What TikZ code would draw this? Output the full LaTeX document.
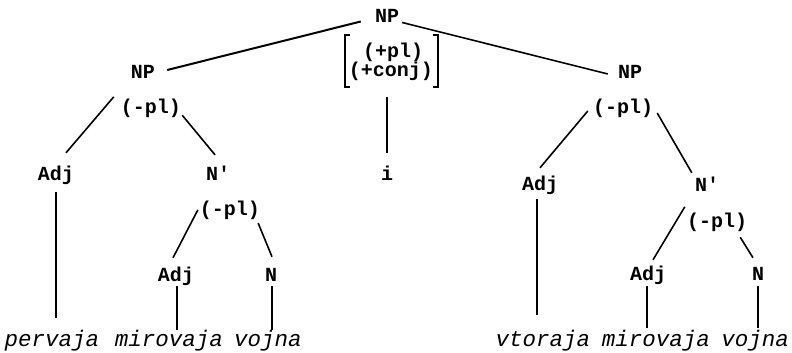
\documentclass[tikz,border=0pt]{standalone}
\usepackage{fontspec}
\setmonofont{Liberation Mono}
\begin{document}
\begin{tikzpicture}[x=1pt,y=-1pt,
  lab/.style={font=\ttfamily\bfseries\fontsize{20}{24}\selectfont, inner sep=0pt, anchor=base, text height=13pt, text depth=3pt},
  word/.style={font=\ttfamily\itshape\fontsize{22.5}{26}\selectfont, inner sep=0pt, anchor=base, text height=10pt, text depth=4pt},
  br/.style={line width=1.5pt},
  ln/.style={line width=1.6pt},
  tln/.style={line width=2pt}]
\useasboundingbox (0,0) rectangle (792,353);
% labels
\node[lab] (top) at (387,23) {NP};
\node[lab] (lnp) at (143,78) {NP};
\node[lab] (rnp) at (630,78) {NP};
\node[lab] (fpl) at (393,57) {(+pl)};
\node[lab] (fconj) at (391,77) {(+conj)};
\node[inner sep=0pt, minimum width=93pt, minimum height=52pt] (feat) at (391.5,61) {};
\node[lab] (conj) at (387,180) {i};
% left conjunct
\node[lab] (lpl) at (151,113) {(-pl)};
\node[lab] (ladj) at (56,180) {Adj};
\node[lab] (lnb) at (218,180) {N'};
\node[lab] (llpl) at (230,215) {(-pl)};
\node[lab] (lladj) at (176,281) {Adj};
\node[lab] (lln) at (271,281) {N};
% right conjunct
\node[lab] (rpl) at (623,113) {(-pl)};
\node[lab] (radj) at (540,190) {Adj};
\node[lab] (rnb) at (707,191) {N'};
\node[lab] (lrpl) at (717,227) {(-pl)};
\node[lab] (lradj) at (648,280) {Adj};
\node[lab] (lrn) at (758,280) {N};
% words
\node[word] (w1) at (52,346) {pervaja};
\node[word] (w2) at (169,346) {mirovaja};
\node[word] (w3) at (268,346) {vojna};
\node[word] (w4) at (543,346) {vtoraja};
\node[word] (w5) at (656,346) {mirovaja};
\node[word] (w6) at (755,346) {vojna};
% bracket
\draw[br] ([shift={(5,0)}]feat.north west) -- (feat.north west) -- (feat.south west) -- ([shift={(5,0)}]feat.south west);
\draw[br] ([shift={(-5,0)}]feat.north east) -- (feat.north east) -- (feat.south east) -- ([shift={(-5,0)}]feat.south east);
% top branches
\draw[tln] ([shift={(-14,3.5)}]top.west) -- ([shift={(12,-3)}]lnp.east);
\draw[ln] ([shift={(3,4.5)}]top.east) -- ([shift={(-10,1)}]rnp.west);
\draw[ln] ([shift={(0,10)}]conj.north |- feat.south) -- ([shift={(0,-14)}]conj.north);
% left conjunct branches
\draw[ln] ([shift={(-7,-3)}]lpl.north west) -- ([shift={(10,-14)}]ladj.north);
\draw[ln] ([shift={(1,-1)}]lpl.south east) -- ([shift={(-3,-12)}]lnb.north);
\draw[ln] ([shift={(0,9)}]ladj.south) -- ([shift={(0,-18)}]ladj.south |- w1.north);
\draw[ln] ([shift={(-2,0)}]llpl.west) -- ([shift={(-3,-10)}]lladj.north);
\draw[ln] ([shift={(-2,5)}]llpl.south east) -- ([shift={(1,-11)}]lln.north);
\draw[ln] ([shift={(1,2)}]lladj.south) -- ([shift={(1,-6)}]lladj.south |- w2.north);
\draw[ln] ([shift={(1,2)}]lln.south) -- ([shift={(1,-6)}]lln.south |- w3.north);
% right conjunct branches
\draw[ln] ([shift={(-5,3)}]rpl.west) -- ([shift={(0,-9)}]radj.north);
\draw[ln] ([shift={(4,5)}]rpl.east) -- ([shift={(-3,-5)}]rnb.north west);
\draw[ln] ([shift={(-3,6)}]radj.south) -- ([shift={(-3,-21)}]radj.south |- w4.north);
\draw[ln] ([shift={(-2,-7)}]lrpl.north west) -- ([shift={(5,-7)}]lradj.north);
\draw[ln] ([shift={(-7,7)}]lrpl.south east) -- ([shift={(-5,-9)}]lrn.north);
\draw[ln] ([shift={(-1,3)}]lradj.south) -- ([shift={(-1,-8)}]lradj.south |- w5.north);
\draw[ln] ([shift={(0,3)}]lrn.south) -- ([shift={(0,-8)}]lrn.south |- w6.north);
\end{tikzpicture}
\end{document}
